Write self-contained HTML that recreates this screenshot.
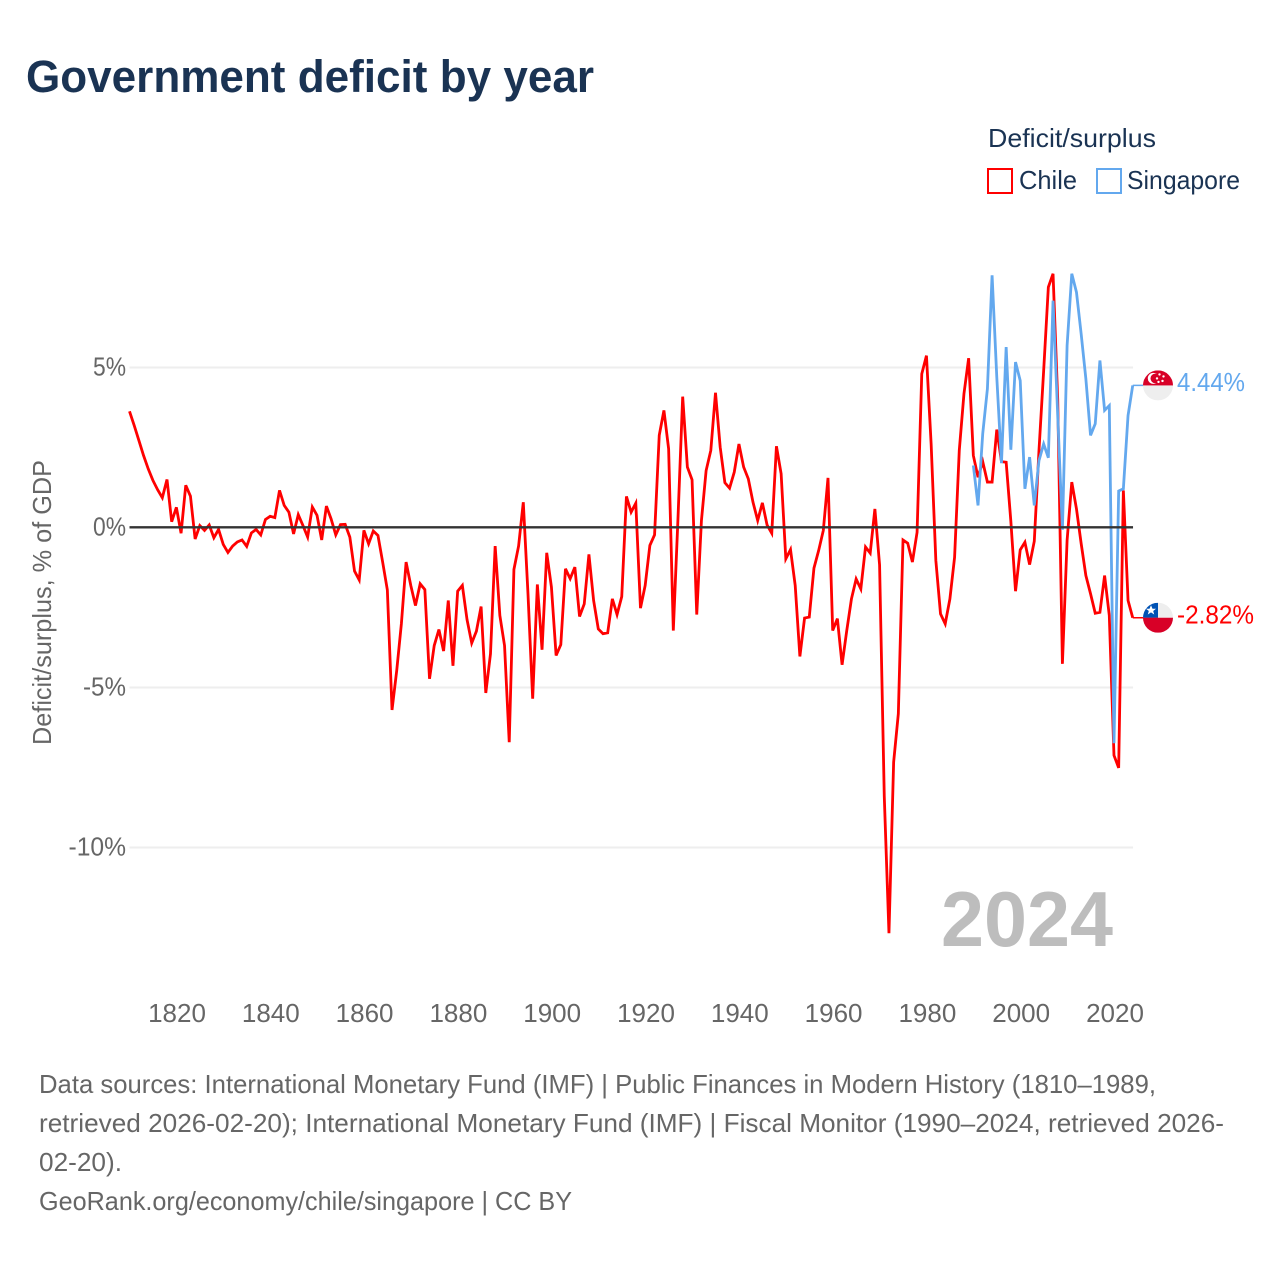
<!DOCTYPE html>
<html lang="en">
<head>
<meta charset="utf-8">
<title>Government deficit by year</title>
<style>
  html, body { margin: 0; padding: 0; background: #fff; }
  svg { display: block; }
  text { font-family: "Liberation Sans", sans-serif; }
</style>
</head>
<body>
<svg id="chart" xmlns="http://www.w3.org/2000/svg" width="1280" height="1280" viewBox="0 0 1280 1280">
  <rect x="0" y="0" width="1280" height="1280" fill="#ffffff"/>
  <text x="26" y="92" font-size="45" font-weight="700" fill="#1a3353" textLength="568" lengthAdjust="spacingAndGlyphs">Government deficit by year</text>

  <g>
    <text x="988" y="147" font-size="26" fill="#1a3353" textLength="168" lengthAdjust="spacingAndGlyphs">Deficit/surplus</text>
    <g>
      <rect x="988" y="169" width="24" height="24" fill="none" stroke="#ff0000" stroke-width="2"/>
      <text x="1019" y="189" font-size="26" fill="#1a3353" textLength="58" lengthAdjust="spacingAndGlyphs">Chile</text>
    </g>
    <g>
      <rect x="1097" y="169" width="24" height="24" fill="none" stroke="#63a8ee" stroke-width="2"/>
      <text x="1127" y="189" font-size="26" fill="#1a3353" textLength="113" lengthAdjust="spacingAndGlyphs">Singapore</text>
    </g>
  </g>

  <text transform="translate(51,745) rotate(-90)" x="0" y="0" font-size="26" fill="#666666" textLength="285" lengthAdjust="spacingAndGlyphs">Deficit/surplus, % of GDP</text>

  <g id="grid"></g>
  <g id="yticks"></g>
  <g id="xticks"></g>
  <g id="series"></g>
  <g id="zero"></g>

  <g id="flag-singapore">
    <clipPath id="clip-sg"><circle cx="0" cy="0" r="15"/></clipPath>
    <g clip-path="url(#clip-sg)">
      <rect x="-15" y="-15" width="30" height="30" fill="#eeeeee"/>
      <rect x="-15" y="-15" width="30" height="15" fill="#d80027"/>
      <circle cx="-4.7" cy="-7" r="5.5" fill="#ffffff"/>
      <circle cx="-2.7" cy="-7" r="4.8" fill="#d80027"/>
      <circle cx="1.5" cy="-11" r="1.2" fill="#ffffff"/>
      <circle cx="5.5" cy="-9" r="1.2" fill="#ffffff"/>
      <circle cx="-1" cy="-7" r="1.2" fill="#ffffff"/>
      <circle cx="4.5" cy="-4.5" r="1.2" fill="#ffffff"/>
      <circle cx="0.5" cy="-3.5" r="1.2" fill="#ffffff"/>
    </g>
  </g>

  <g id="flag-chile">
    <clipPath id="clip-cl"><circle cx="0" cy="0" r="15"/></clipPath>
    <g clip-path="url(#clip-cl)">
      <rect x="-15" y="-15" width="30" height="15" fill="#eeeeee"/>
      <rect x="-15" y="-15" width="15" height="15" fill="#0052b4"/>
      <rect x="-15" y="0" width="30" height="15" fill="#d80027"/>
      <polygon points="-7,-12.5 -5.5,-9 -2,-9 -4.8,-6.8 -3.8,-3.3 -7,-5.4 -10.2,-3.3 -9.2,-6.8 -12,-9 -8.5,-9" fill="#ffffff"/>
    </g>
  </g>

  <text id="label-singapore" x="1177" font-size="26" fill="#63a8ee"></text>
  <text id="label-chile" x="1177" font-size="26" fill="#ff0000"></text>

  <text x="941" y="946" font-size="78" font-weight="700" fill="#bdbdbd" textLength="172" lengthAdjust="spacingAndGlyphs">2024</text>

  <g font-size="26" fill="#666666">
    <text x="39" y="1093" textLength="1117" lengthAdjust="spacingAndGlyphs">Data sources: International Monetary Fund (IMF) | Public Finances in Modern History (1810–1989,</text>
    <text x="39" y="1132" textLength="1185" lengthAdjust="spacingAndGlyphs">retrieved 2026-02-20); International Monetary Fund (IMF) | Fiscal Monitor (1990–2024, retrieved 2026-</text>
    <text x="39" y="1171" textLength="83" lengthAdjust="spacingAndGlyphs">02-20).</text>
    <text x="39" y="1210" textLength="533" lengthAdjust="spacingAndGlyphs">GeoRank.org/economy/chile/singapore | CC BY</text>
  </g>
</svg>

<script>
const chileStartYear = 1810;
const singaporeStartYear = 1990;
const xTickYears = [1820, 1840, 1860, 1880, 1900, 1920, 1940, 1960, 1980, 2000, 2020];
const yTickValues = [5, 0, -5, -10];
const yTickLabels = ["5%", "0%", "-5%", "-10%"];
const chileValues = [
  3.63, 3.19, 2.72, 2.25, 1.83, 1.47, 1.18, 0.93, 1.5, 0.18,
  0.63, -0.18, 1.32, 0.98, -0.36, 0.06, -0.09, 0.08, -0.32, -0.06,
  -0.53, -0.78, -0.58, -0.45, -0.39, -0.59, -0.17, -0.06, -0.23, 0.25,
  0.35, 0.31, 1.16, 0.69, 0.48, -0.2, 0.4, 0.06, -0.3, 0.64,
  0.38, -0.39, 0.67, 0.27, -0.23, 0.09, 0.1, -0.3, -1.36, -1.64,
  -0.09, -0.51, -0.11, -0.25, -1.08, -1.95, -5.7, -4.47, -3.0, -1.08,
  -1.81, -2.44, -1.76, -1.94, -4.73, -3.69, -3.19, -3.86, -2.28, -4.32,
  -1.99, -1.81, -2.88, -3.61, -3.24, -2.47, -5.17, -3.95, -0.58, -2.75,
  -3.69, -6.71, -1.31, -0.58, 0.79, -2.07, -5.35, -1.78, -3.82, -0.79,
  -1.86, -4.0, -3.66, -1.29, -1.6, -1.24, -2.78, -2.39, -0.84, -2.28,
  -3.17, -3.32, -3.29, -2.23, -2.72, -2.16, 0.97, 0.48, 0.76, -2.52,
  -1.81, -0.56, -0.23, 2.88, 3.66, 2.46, -3.22, 0.3, 4.09, 1.89,
  1.49, -2.72, 0.22, 1.78, 2.41, 4.21, 2.51, 1.4, 1.23, 1.73,
  2.61, 1.89, 1.52, 0.79, 0.22, 0.77, 0.08, -0.18, 2.54, 1.68,
  -0.98, -0.69, -1.81, -4.03, -2.83, -2.8, -1.27, -0.72, -0.09, 1.55,
  -3.22, -2.85, -4.29, -3.22, -2.23, -1.61, -1.92, -0.61, -0.8, 0.58,
  -1.17, -8.4, -12.68, -7.33, -5.82, -0.39, -0.49, -1.08, -0.15, 4.8,
  5.37, 2.6, -1.03, -2.7, -3.01, -2.23, -0.93, 2.41, 4.18, 5.29,
  2.25, 1.57, 2.06, 1.42, 1.42, 3.06, 2.06, 2.04, 0.2, -1.99,
  -0.7, -0.46, -1.16, -0.43, 2.4, 4.9, 7.51, 7.93, 4.0, -4.26,
  -0.4, 1.42, 0.58, -0.5, -1.5, -2.07, -2.68, -2.65, -1.5, -2.75,
  -7.12, -7.51, 1.16, -2.28, -2.82
];
const singaporeValues = [
  1.94, 0.69, 2.93, 4.33, 7.88, 4.7, 2.01, 5.64, 2.43, 5.17,
  4.59, 1.21, 2.2, 0.69, 2.09, 2.61, 2.18, 7.09, 3.5, -0.07,
  5.69, 7.93, 7.35, 6.05, 4.65, 2.88, 3.24, 5.22, 3.66, 3.81,
  -6.74, 1.14, 1.21, 3.5, 4.44
];
const latestLabels = { chile: "-2.82%", singapore: "4.44%" };

const SVG_NS = "http://www.w3.org/2000/svg";
const xScale = function (year) { return 129.5 + (year - 1810) * 4.688; };
const tickLabelX = function (year) { return 177 + (year - 1820) * 4.69; };
const yScale = function (value) { return 527.5 - value * 32; };
const plotLeft = xScale(1810);
const plotRight = xScale(2024) + 0.3;
const flagX = 1158;

function make(tag, parentId) {
  const el = document.createElementNS(SVG_NS, tag);
  document.getElementById(parentId).appendChild(el);
  return el;
}
function tickWidth(label) {
  let w = 0;
  for (const ch of label) {
    if (ch === "%") { w += 18.5; }
    else if (ch === "-") { w += 10; }
    else if (ch === ".") { w += 7; }
    else { w += 14.5; }
  }
  return w;
}
function linePoints(startYear, values) {
  return values.map(function (v, i) {
    return xScale(startYear + i).toFixed(2) + "," + yScale(v).toFixed(2);
  }).join(" ");
}

yTickValues.forEach(function (v, i) {
  if (v !== 0) {
    const grid = make("line", "grid");
    
    
    grid.setAttribute("x1", plotLeft);
    grid.setAttribute("x2", plotRight);
    grid.setAttribute("y1", yScale(v));
    grid.setAttribute("y2", yScale(v));
    grid.setAttribute("stroke", "#eeeeee");
    grid.setAttribute("stroke-width", "2");
  }
  const t = make("text", "yticks");
  
  
  t.setAttribute("x", 126);
  t.setAttribute("y", yScale(v) + 8);
  t.setAttribute("text-anchor", "end");
  t.setAttribute("font-size", "26");
  t.setAttribute("fill", "#666666");
  t.setAttribute("textLength", tickWidth(yTickLabels[i]));
  t.setAttribute("lengthAdjust", "spacingAndGlyphs");
  t.textContent = yTickLabels[i];
});

xTickYears.forEach(function (year) {
  const t = make("text", "xticks");
  
  
  t.setAttribute("x", tickLabelX(year));
  t.setAttribute("y", 1022);
  t.setAttribute("text-anchor", "middle");
  t.setAttribute("font-size", "26");
  t.setAttribute("fill", "#666666");
  t.textContent = String(year);
});

const chileLine = make("polyline", "series");


chileLine.setAttribute("points", linePoints(chileStartYear, chileValues));
chileLine.setAttribute("fill", "none");
chileLine.setAttribute("stroke", "#ff0000");
chileLine.setAttribute("stroke-width", "2.8");
chileLine.setAttribute("stroke-miterlimit", "4");

const singaporeLine = make("polyline", "series");


singaporeLine.setAttribute("points", linePoints(singaporeStartYear, singaporeValues));
singaporeLine.setAttribute("fill", "none");
singaporeLine.setAttribute("stroke", "#63a8ee");
singaporeLine.setAttribute("stroke-width", "2.8");
singaporeLine.setAttribute("stroke-miterlimit", "4");

const chileLast = chileValues[chileValues.length - 1];
const singaporeLast = singaporeValues[singaporeValues.length - 1];

const chileConnector = make("line", "series");


chileConnector.setAttribute("x1", xScale(2024));
chileConnector.setAttribute("x2", flagX);
chileConnector.setAttribute("y1", yScale(chileLast));
chileConnector.setAttribute("y2", yScale(chileLast));
chileConnector.setAttribute("stroke", "#ff0000");
chileConnector.setAttribute("stroke-width", "1.5");

const singaporeConnector = make("line", "series");


singaporeConnector.setAttribute("x1", xScale(2024));
singaporeConnector.setAttribute("x2", flagX);
singaporeConnector.setAttribute("y1", yScale(singaporeLast));
singaporeConnector.setAttribute("y2", yScale(singaporeLast));
singaporeConnector.setAttribute("stroke", "#63a8ee");
singaporeConnector.setAttribute("stroke-width", "1.5");

const zeroLine = make("line", "zero");


zeroLine.setAttribute("x1", plotLeft);
zeroLine.setAttribute("x2", plotRight);
zeroLine.setAttribute("y1", yScale(0) - 0.2);
zeroLine.setAttribute("y2", yScale(0) - 0.2);
zeroLine.setAttribute("stroke", "#333333");
zeroLine.setAttribute("stroke-width", "2.4");

document.getElementById("flag-singapore").setAttribute("transform", "translate(" + flagX + "," + yScale(singaporeLast) + ")");
document.getElementById("flag-chile").setAttribute("transform", "translate(" + flagX + "," + yScale(chileLast) + ")");

const sgLabel = document.getElementById("label-singapore");
sgLabel.setAttribute("y", yScale(singaporeLast) + 5.5);
sgLabel.setAttribute("textLength", 68);
sgLabel.setAttribute("lengthAdjust", "spacingAndGlyphs");
sgLabel.textContent = latestLabels.singapore;

const clLabel = document.getElementById("label-chile");
clLabel.setAttribute("y", yScale(chileLast) + 6);
clLabel.setAttribute("textLength", 77);
clLabel.setAttribute("lengthAdjust", "spacingAndGlyphs");
clLabel.textContent = latestLabels.chile;
</script>
</body>
</html>
